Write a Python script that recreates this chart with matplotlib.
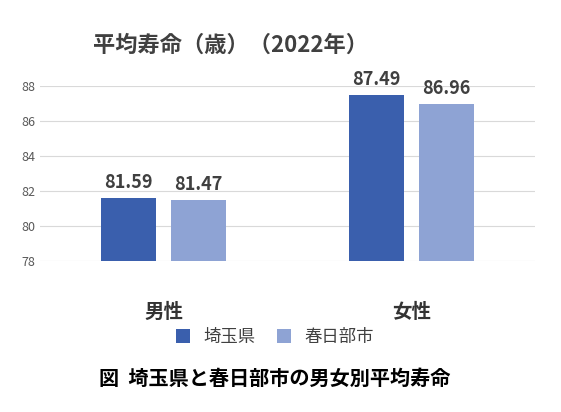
import matplotlib.pyplot as plt
import numpy as np

plt.rcParams['font.family'] = ['Noto Sans CJK JP', 'DejaVu Sans']

categories = ['男性', '女性']
series_names = ['埼玉県', '春日部市']
saitama = [81.59, 87.49]
kasukabe = [81.47, 86.96]
colors = ['#3A5FAD', '#8EA3D4']

fig = plt.figure(figsize=(5.61, 4.12), dpi=100)
ax = fig.add_axes([0.071, 0.3665, 0.883, 0.4245])

x = np.arange(len(categories))
w = 0.223
off = 0.283
for vals, dx, c, name in [(saitama, -off / 2, colors[0], series_names[0]),
                          (kasukabe, off / 2, colors[1], series_names[1])]:
    bars = ax.bar(x + dx, vals, width=w, color=c, label=name, zorder=3)
    for b, v in zip(bars, vals):
        ax.text(b.get_x() + b.get_width() / 2, v + 0.35, f'{v:.2f}',
                ha='center', va='bottom', fontsize=13, fontweight='bold', color='#404040')

ax.set_xlim(-0.5, 1.5)
ax.set_ylim(78, 88)
ax.set_yticks(range(78, 89, 2))
ax.tick_params(axis='y', length=0, labelsize=9, labelcolor='#595959')
ax.set_xticks(x)
ax.set_xticklabels(categories, fontsize=14, fontweight='bold', color='#333333')
ax.tick_params(axis='x', length=0, pad=30)
ax.grid(axis='y', color='#d9d9d9', linewidth=0.8, zorder=0)
for s in ax.spines.values():
    s.set_visible(False)

fig.text(0.165, 0.89, '平均寿命（歳）（2022年）', fontsize=16, fontweight='bold',
         color='#404040', ha='left', va='center')
fig.legend(loc='center', bbox_to_anchor=(0.49, 0.182), ncol=2, frameon=False,
           fontsize=12.5, handlelength=0.8, handleheight=0.8, columnspacing=1.2,
           labelcolor='#404040')
fig.text(0.49, 0.082, '図  埼玉県と春日部市の男女別平均寿命', fontsize=14.5,
         fontweight='bold', ha='center', va='center', color='black')

fig.savefig('out.png', dpi=100)
